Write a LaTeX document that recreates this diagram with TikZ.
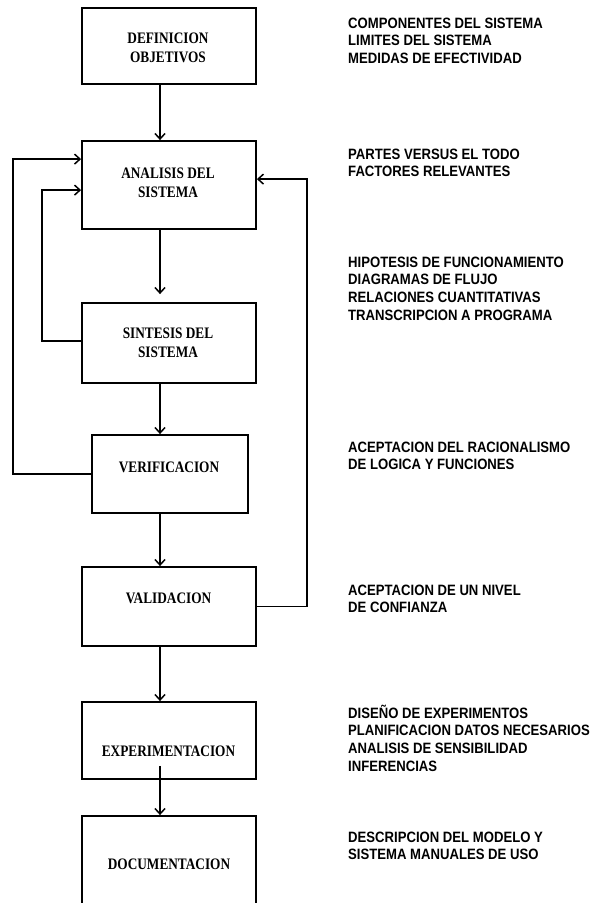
\documentclass[tikz,border=0pt]{standalone}
\usepackage{fontspec}
\usetikzlibrary{arrows.meta}
\newfontfamily\stepfont[FakeStretch=0.83]{Liberation Serif}
\newfontfamily\notefont[FakeStretch=0.875]{Liberation Sans}
\newcommand{\steplines}[1]{{\stepfont\bfseries\fontsize{16}{19}\selectfont
  \begin{tabular}[t]{@{}c@{}}#1\end{tabular}}}
\newcommand{\notelines}[1]{{\notefont\bfseries\fontsize{15}{17.7}\selectfont
  \begin{tabular}[t]{@{}l@{}}#1\end{tabular}}}
\tikzset{
  stepbox/.style={draw, line width=1.8pt, minimum width=174pt, inner sep=0pt},
  steptext/.style={anchor=base, inner sep=0pt},
  notetext/.style={anchor=base west, inner sep=0pt},
  conn/.style={line width=1.5pt, -{Straight Barb[length=5.5pt,width=10pt]}},
}
\begin{document}
\begin{tikzpicture}[x=1pt,y=-1pt]
\fill[white] (0,0) rectangle (595,903);
\useasboundingbox (0,0) rectangle (595,903);

% process boxes
\node[stepbox, minimum height=76pt] (def) at (169,46) {};
\node[stepbox, minimum height=88pt] (ana) at (169,185) {};
\node[stepbox, minimum height=80pt] (sin) at (169,343) {};
\node[stepbox, minimum width=156pt, minimum height=78pt] (ver) at (170,474) {};
\node[stepbox, minimum height=79pt] (val) at (169,606.5) {};
\node[stepbox, minimum height=77pt] (exp) at (169,740.5) {};
\node[stepbox, minimum height=120pt] (doc) at (169,876) {};

% box captions
\node[steptext] (deft) at (168,43) {\steplines{DEFINICION\\OBJETIVOS}};
\node[steptext] (anat) at (168,178) {\steplines{ANALISIS DEL\\SISTEMA}};
\node[steptext] (sint) at (168,338) {\steplines{SINTESIS DEL\\SISTEMA}};
\node[steptext] (vert) at (169,472) {\steplines{VERIFICACION}};
\node[steptext] (valt) at (168.5,603) {\steplines{VALIDACION}};
\node[steptext] (expt) at (168.5,756) {\steplines{EXPERIMENTACION}};
\node[steptext] (doct) at (169,869) {\steplines{DOCUMENTACION}};

% notes on the right
\node[notetext] (n1) at (348,28) {\notelines{COMPONENTES DEL SISTEMA\\LIMITES DEL SISTEMA\\MEDIDAS DE EFECTIVIDAD}};
\node[notetext] (n2) at (348,159) {\notelines{PARTES VERSUS EL TODO\\FACTORES RELEVANTES}};
\node[notetext] (n3) at (348,267) {\notelines{HIPOTESIS DE FUNCIONAMIENTO\\DIAGRAMAS DE FLUJO\\RELACIONES CUANTITATIVAS\\TRANSCRIPCION A PROGRAMA}};
\node[notetext] (n4) at (348,452) {\notelines{ACEPTACION DEL RACIONALISMO\\DE LOGICA Y FUNCIONES}};
\node[notetext] (n5) at (348,595) {\notelines{ACEPTACION DE UN NIVEL\\DE CONFIANZA}};
\node[notetext] (n6) at (348,718) {\notelines{DISEÑO DE EXPERIMENTOS\\PLANIFICACION DATOS NECESARIOS\\ANALISIS DE SENSIBILIDAD\\INFERENCIAS}};
\node[notetext] (n7) at (348,842) {\notelines{DESCRIPCION DEL MODELO Y\\SISTEMA MANUALES DE USO}};

% main flow
\draw[conn] ([xshift=-9pt]def.south) -- ([xshift=-9pt]ana.north);
\draw[conn, shorten >=8pt] ([xshift=-9pt]ana.south) -- ([xshift=-9pt]sin.north);
\draw[conn] ([xshift=-9pt]sin.south) -- ([xshift=-10pt]ver.north);
\draw[conn] ([xshift=-10pt]ver.south) -- ([xshift=-9pt]val.north);
\draw[conn] ([xshift=-9pt]val.south) -- ([xshift=-9pt]exp.north);
\draw[conn] ([xshift=-9pt,yshift=14pt]exp.south) -- ([xshift=-9pt]doc.north);

% feedback loops
\draw[conn] (ver.west) -| ([xshift=-68pt,yshift=-19pt]ana.north west) -- ([yshift=-19pt]ana.north west);
\draw[conn] ([yshift=2pt]sin.west) -| ([xshift=-39pt,yshift=-50pt]ana.north west) -- ([yshift=-50pt]ana.north west);
\draw[conn] (val.east) -| ([xshift=50pt,yshift=-39pt]ana.north east) -- ([yshift=-39pt]ana.north east);
\end{tikzpicture}
\end{document}
